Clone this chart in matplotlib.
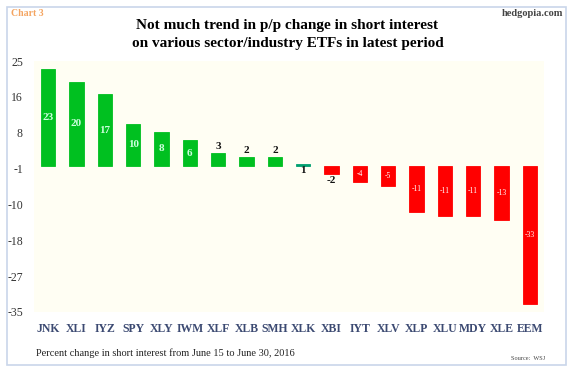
import matplotlib
matplotlib.use("Agg")
import matplotlib.pyplot as plt
from matplotlib.patches import Rectangle
import numpy as np

tickers = ["JNK", "XLI", "IYZ", "SPY", "XLY", "IWM", "XLF", "XLB", "SMH",
           "XLK", "XBI", "IYT", "XLV", "XLP", "XLU", "MDY", "XLE", "EEM"]
values = [23, 20, 17, 10, 8, 6, 3, 2, 2, 0.4, -2, -4, -5, -11, -12, -12, -13, -33]
labels = ["23", "20", "17", "10", "8", "6", "3", "2", "2", "1", "-2", "-4", "-5",
          "-11", "-11", "-11", "-13", "-33"]
ytick_labels = ["25", "16", "8", "-1", "-10", "-18", "-27", "-35"]

serif = ["Liberation Serif", "DejaVu Serif"]

fig = plt.figure(figsize=(5.75, 3.75), dpi=100)
fig.patch.set_facecolor("white")

# outer frame
fig.patches.append(Rectangle((7/575, 1-365/375), (566-7)/575, (365-7)/375,
                             transform=fig.transFigure, fill=False,
                             edgecolor="#c9d6ea", linewidth=1.2))

ax = fig.add_axes([34/575, 1-312/375, (544-34)/575, (312-61)/375])
ax.set_facecolor("#fffef3")

x = np.arange(len(tickers))
colors = []
for i, v in enumerate(values):
    if tickers[i] == "XLK":
        colors.append("#00a070")
    elif v >= 0:
        colors.append("#00c020")
    else:
        colors.append("#ff0000")

ax.bar(x, values, width=0.5, color=colors, edgecolor=colors, linewidth=0.6, zorder=2)

for i, (v, lab) in enumerate(zip(values, labels)):
    if v >= 5:
        ax.text(i, v/2, lab, ha="center", va="center", color="#ccffdd",
                fontsize=8, fontweight="bold", family=serif, zorder=3)
    elif v >= 1:
        ax.text(i, v + 0.6, lab, ha="center", va="bottom", color="#111111",
                fontsize=8, fontweight="bold", family=serif, zorder=3)
    elif v > -3:
        ax.text(i, v - 0.6, lab, ha="center", va="top", color="#111111",
                fontsize=8, fontweight="bold", family=serif, zorder=3)
    else:
        ax.text(i, v/2, lab, ha="center", va="center", color="white",
                fontsize=5.5, family=serif, zorder=3)

ax.set_xlim(-0.5, len(tickers) - 0.5)
ax.set_ylim(-35, 25)
ax.set_yticks(np.linspace(25, -35, 8))
ax.set_yticklabels(ytick_labels, family=serif, fontsize=8.5, color="#333333")
ax.set_xticks(x)
ax.set_xticklabels(tickers, family=serif, fontsize=8.5, color="#3c4a72",
                   fontweight="bold")
ax.tick_params(axis="both", length=0)
ax.tick_params(axis="y", pad=8)
ax.tick_params(axis="x", pad=8)
for s in ax.spines.values():
    s.set_visible(False)

fig.text(0.5, 1-25/375, "Not much trend in p/p change in short interest",
         ha="center", va="center", fontsize=11, fontweight="bold", family=serif)
fig.text(0.5, 1-43/375, "on various sector/industry ETFs in latest period",
         ha="center", va="center", fontsize=11, fontweight="bold", family=serif)
fig.text(11/575, 1-14/375, "Chart 3", ha="left", va="center", fontsize=7,
         fontweight="bold", color="#f4a460", family=serif)
fig.text(563/575, 1-14/375, "hedgopia.com", ha="right", va="center", fontsize=7.5,
         fontweight="bold", color="#444444", family=serif)
fig.text(36/575, 1-353/375, "Percent change in short interest from June 15 to June 30, 2016",
         ha="left", va="center", fontsize=7.5, color="#222222", family=serif)
fig.text(545/575, 1-358/375, "Source:  WSJ", ha="right", va="center", fontsize=4.5,
         color="#444444", family=serif)

fig.savefig("out.png", dpi=100)
